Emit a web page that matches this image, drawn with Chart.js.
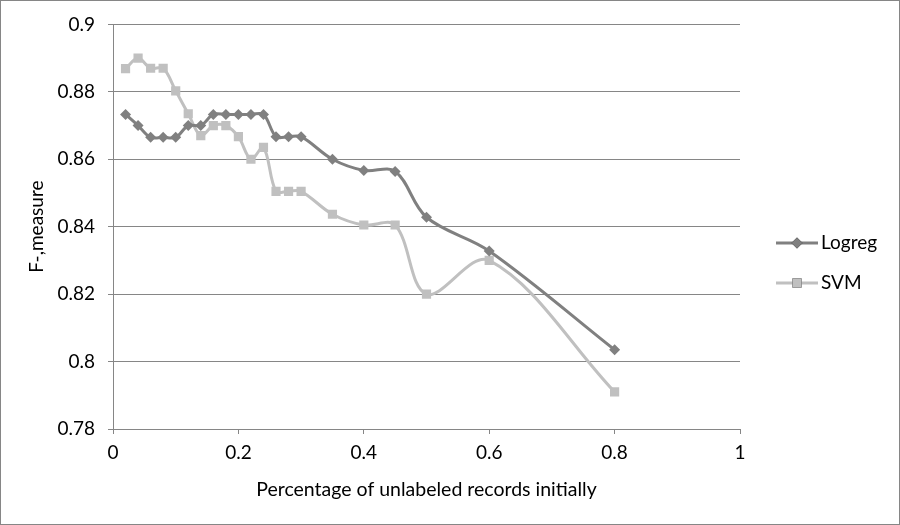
<!DOCTYPE html>
<html lang="en">
<head>
  <meta charset="UTF-8">
  <title>F-measure vs unlabeled records</title>
  <script src="https://cdn.jsdelivr.net/npm/chart.js"></script>
  <style>
    body { margin: 0; background: #fff; }
    .chart-box { width: 900px; height: 525px; position: relative; }
  </style>
</head>
<body>

<div class="chart-box">
  <canvas id="fmeasureChart"></canvas>
</div>

<script>
  // Data
  const xValues = [0.02, 0.04, 0.06, 0.08, 0.10, 0.12, 0.14, 0.16, 0.18, 0.20, 0.22, 0.24, 0.26, 0.28, 0.30, 0.35, 0.40, 0.45, 0.50, 0.60, 0.80];
  const logregValues = [0.8733, 0.8700, 0.8665, 0.8665, 0.8665, 0.8700, 0.8700, 0.8733, 0.8733, 0.8733, 0.8733, 0.8733, 0.8667, 0.8667, 0.8667, 0.8600, 0.8567, 0.8564, 0.8428, 0.8328, 0.8035];
  const svmValues = [0.8869, 0.8900, 0.8870, 0.8870, 0.8803, 0.8735, 0.8670, 0.8700, 0.8700, 0.8667, 0.8600, 0.8635, 0.8505, 0.8505, 0.8505, 0.8437, 0.8405, 0.8405, 0.8200, 0.8300, 0.7910];
  const seriesNames = ['Logreg', 'SVM'];
  const xTicks = [0, 0.2, 0.4, 0.6, 0.8, 1];
  const yTicks = [0.78, 0.8, 0.82, 0.84, 0.86, 0.88, 0.9];

  const axisColor = '#868686';
  const fontFamily = 'Lato, "Open Sans", sans-serif';

  function toPoints(ys) {
    return xValues.map((x, i) => ({ x: x, y: ys[i] }));
  }

  function fmt(v) {
    return String(parseFloat(Number(v).toFixed(2)));
  }

  // white background + thin frame round the whole picture
  const frame = {
    id: 'frame',
    beforeDraw(chart) {
      const ctx = chart.ctx;
      ctx.save();
      ctx.fillStyle = '#fff';
      ctx.fillRect(0, 0, chart.width, chart.height);
      ctx.strokeStyle = axisColor;
      ctx.lineWidth = 1;
      ctx.strokeRect(0.5, 0.5, chart.width - 1, chart.height - 1);
      ctx.restore();
    }
  };

  // legend on the right, drawn from the dataset styles
  const sideLegend = {
    id: 'sideLegend',
    afterDraw(chart) {
      const ctx = chart.ctx;
      ctx.save();
      chart.data.datasets.forEach((ds, i) => {
        const y = 243 + i * 40;
        ctx.strokeStyle = ds.borderColor;
        ctx.lineWidth = ds.borderWidth;
        ctx.beginPath();
        ctx.moveTo(776, y);
        ctx.lineTo(818, y);
        ctx.stroke();
        Chart.helpers.drawPoint(ctx, {
          pointStyle: ds.pointStyle,
          radius: ds.pointRadius,
          borderWidth: 0
        }, 797, y);
        ctx.fillStyle = ds.pointBackgroundColor;
        ctx.fill();
        ctx.fillStyle = '#000';
        ctx.font = '19px ' + fontFamily;
        ctx.textBaseline = 'middle';
        ctx.fillText(ds.label, 821, y);
      });
      ctx.restore();
    }
  };

  document.addEventListener('DOMContentLoaded', function() {
    const ctx = document.getElementById('fmeasureChart').getContext('2d');
    new Chart(ctx, {
      type: 'line',
      data: {
        datasets: [{
          label: seriesNames[0],
          data: toPoints(logregValues),
          borderColor: '#808080',
          backgroundColor: '#808080',
          pointBackgroundColor: '#808080',
          pointBorderWidth: 0,
          pointStyle: 'rectRot',
          pointRadius: 5.5,
          borderWidth: 3,
          tension: 0.35
        }, {
          label: seriesNames[1],
          data: toPoints(svmValues),
          borderColor: '#c0c0c0',
          backgroundColor: '#c0c0c0',
          pointBackgroundColor: '#c0c0c0',
          pointBorderWidth: 0,
          pointStyle: 'rect',
          pointRadius: 6.5,
          borderWidth: 3,
          tension: 0.35
        }]
      },
      options: {
        responsive: true,
        maintainAspectRatio: false,
        animation: false,
        layout: { padding: { left: 0, right: 160, top: 23, bottom: 0 } },
        plugins: {
          legend: { display: false },
          tooltip: { enabled: false }
        },
        scales: {
          x: {
            type: 'linear',
            min: 0,
            max: 1,
            afterBuildTicks: s => { s.ticks = xTicks.map(v => ({ value: v })); },
            afterFit: s => { s.height = 96; },
            grid: { drawOnChartArea: false, drawTicks: true, tickLength: 5, color: axisColor },
            border: { color: axisColor },
            ticks: { color: '#000', font: { family: fontFamily, size: 19 }, padding: 7, callback: v => fmt(v), maxRotation: 0 },
            title: { display: true, text: 'Percentage of unlabeled records initially', color: '#000', font: { family: fontFamily, size: 19.5 }, padding: { top: 8, bottom: 24 } }
          },
          y: {
            min: 0.78,
            max: 0.9,
            afterBuildTicks: s => { s.ticks = yTicks.map(v => ({ value: v })); },
            afterFit: s => { s.width = 113; },
            grid: { color: axisColor, tickLength: 5 },
            border: { color: axisColor },
            ticks: { color: '#000', font: { family: fontFamily, size: 19 }, padding: 13, callback: v => fmt(v) },
            title: { display: true, text: 'F-,measure', color: '#000', font: { family: fontFamily, size: 19 }, padding: { top: 25, bottom: 0 } }
          }
        }
      },
      plugins: [frame, sideLegend]
    });
  });
</script>

</body>
</html>
